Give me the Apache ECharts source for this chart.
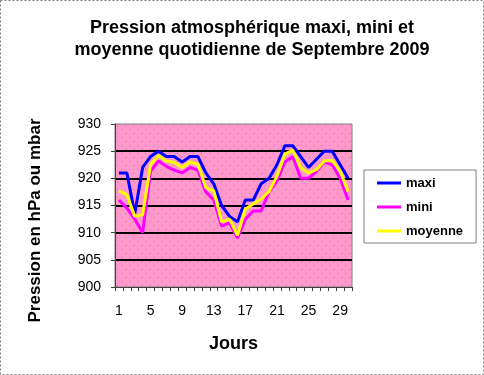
<!DOCTYPE html>
<html>
<head>
<meta charset="utf-8">
<script src="https://cdn.jsdelivr.net/npm/echarts@6/dist/echarts.min.js"></script>
<style>
html,body{margin:0;padding:0;background:#fff;}
#chart{width:484px;height:375px;}
</style>
</head>
<body>
<div id="chart"></div>
<script>
const days = Array.from({length: 30}, (_, i) => String(i + 1));
const maxi = [921, 921, 913.5, 922, 924, 925, 924, 924, 923, 924, 924, 921, 919, 915, 913, 912, 916, 916, 919, 920, 922.5, 926, 926, 924, 922, 923.5, 925, 925, 922.5, 920];
const mini = [916, 914.5, 912.5, 910, 921.3, 923.2, 922.2, 921.5, 921, 922, 921.5, 917.5, 916, 911.2, 911.8, 909, 912.5, 914, 914, 917.5, 919.5, 923, 924, 920, 920, 921.3, 923, 922.5, 920, 916];
const moyenne = [917.7, 917, 913, 913.3, 922.5, 924.2, 923.2, 922.9, 922, 923, 922.6, 918.3, 917.7, 912, 912.5, 909.5, 914.3, 915.3, 916.2, 917.6, 920.4, 924.4, 925.2, 922, 921, 921.6, 923.2, 923.3, 921.3, 917.6];
const yTicks = [900, 905, 910, 915, 920, 925, 930];

// dotted pink pattern for plot area
const pc = document.createElement('canvas');
pc.width = 8; pc.height = 8;
const pctx = pc.getContext('2d');
pctx.fillStyle = '#FF99CC';
pctx.fillRect(0, 0, 8, 8);
pctx.fillStyle = '#D9709F';
pctx.fillRect(1, 1, 1, 1);
pctx.fillRect(5, 5, 1, 1);

const chart = echarts.init(document.getElementById('chart'), null, {renderer: 'canvas'});
const font = 'Arial, "Liberation Sans", sans-serif';
chart.setOption({
  animation: false,
  backgroundColor: '#fff',
  title: {
    text: 'Pression atmosphérique maxi, mini et\nmoyenne quotidienne de Septembre 2009',
    left: 247, top: 12, textAlign: 'center',
    textStyle: {fontFamily: font, fontWeight: 'bold', fontSize: 18, lineHeight: 22, color: '#000'}
  },
  graphic: [{
    type: 'rect', shape: {x: 0.5, y: 0.5, width: 483, height: 374},
    style: {fill: null, stroke: '#808080', lineWidth: 1, lineDash: [2, 2]}, z: 100
  }],
  legend: {
    orient: 'vertical', left: 364, top: 170,
    padding: [6, 13, 5, 13], itemGap: 10,
    itemWidth: 24, itemHeight: 3, icon: 'rect',
    borderColor: '#808080', borderWidth: 1, backgroundColor: '#fff',
    textStyle: {fontFamily: font, fontWeight: 'bold', fontSize: 13, color: '#000', lineHeight: 14},
    data: ['maxi', 'mini', 'moyenne']
  },
  grid: {
    left: 115, right: 132, top: 124, bottom: 88,
    show: true, backgroundColor: {image: pc, repeat: 'repeat'},
    borderColor: '#808080', borderWidth: 1
  },
  xAxis: {
    type: 'category', data: days, boundaryGap: true,
    name: 'Jours', nameLocation: 'middle', nameGap: 48,
    nameTextStyle: {fontFamily: font, fontWeight: 'bold', fontSize: 18, color: '#000'},
    axisLine: {lineStyle: {color: '#404040', width: 1}},
    axisTick: {show: true, interval: 0, length: 4, lineStyle: {color: '#404040'}},
    axisLabel: {interval: 3, margin: 17, fontFamily: font, fontSize: 14, color: '#000'},
    splitLine: {show: false}
  },
  yAxis: {
    type: 'value', min: 900, max: 930, interval: 5,
    name: 'Pression en hPa ou mbar', nameLocation: 'middle', nameGap: 71,
    nameTextStyle: {fontFamily: font, fontWeight: 'bold', fontSize: 17, color: '#000', padding: [0, 30, 0, 0]},
    axisLine: {show: true, lineStyle: {color: '#404040', width: 1}},
    axisTick: {show: true, length: 4, lineStyle: {color: '#404040'}},
    axisLabel: {margin: 14, fontFamily: font, fontSize: 14, color: '#000',
      formatter: v => yTicks.includes(v) ? String(v) : ''},
    splitLine: {show: true, showMinLine: false, showMaxLine: false, lineStyle: {color: '#000', width: 2}}
  },
  series: [
    {name: 'maxi', type: 'line', data: maxi, symbol: 'none', color: '#0000FF', lineStyle: {width: 3, color: '#0000FF'}},
    {name: 'mini', type: 'line', data: mini, symbol: 'none', color: '#FF00FF', lineStyle: {width: 3, color: '#FF00FF'}},
    {name: 'moyenne', type: 'line', data: moyenne, symbol: 'none', color: '#FFFF00', lineStyle: {width: 3, color: '#FFFF00'}}
  ]
});
</script>
</body>
</html>
